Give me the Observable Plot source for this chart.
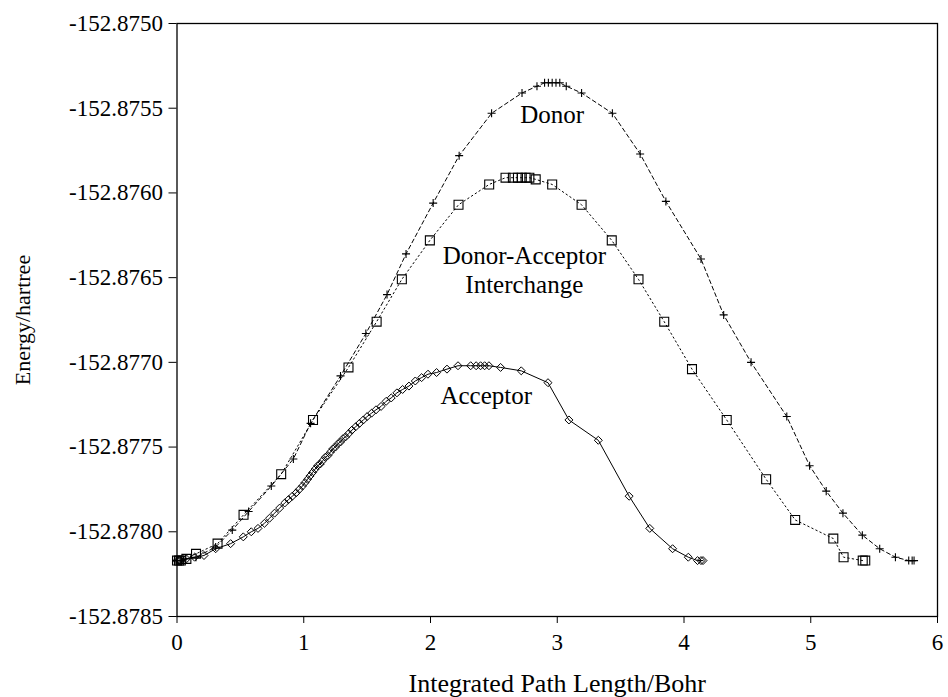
<!DOCTYPE html>
<html>
<head>
<meta charset="utf-8">
<script src="https://cdn.jsdelivr.net/npm/d3@7"></script>
<script src="https://cdn.jsdelivr.net/npm/@observablehq/plot@0.6"></script>
<style>
  html, body { margin: 0; padding: 0; background: #fff; }
  #chart svg { display: block; }
  #chart svg, #chart svg text { font-family: "Liberation Serif", "Times New Roman", serif !important; }
</style>
</head>
<body>
<div id="chart"></div>
<script>
// ---- Data ----
const xTicks = [0, 1, 2, 3, 4, 5, 6];
const yTicks = [-152.8785, -152.8780, -152.8775, -152.8770, -152.8765, -152.8760, -152.8755, -152.8750];
const xTitle = "Integrated Path Length/Bohr";
const yTitle = "Energy/hartree";

const donorX = [0, 0.03, 0.07, 0.15, 0.305, 0.436, 0.565, 0.744, 0.918, 1.054, 1.29, 1.49, 1.657, 1.807,
  2.021, 2.226, 2.482, 2.722, 2.84, 2.90, 2.93, 2.96, 2.99, 3.02, 3.071, 3.192, 3.435, 3.654, 3.857,
  4.134, 4.313, 4.529, 4.811, 4.991, 5.122, 5.254, 5.407, 5.544, 5.668, 5.773, 5.80, 5.815];
const donorY = [-152.87817, -152.87817, -152.87816, -152.87815, -152.87809, -152.87799, -152.87788, -152.87773, -152.87757,
  -152.87736, -152.87708, -152.87683, -152.87660, -152.87636,
  -152.87606, -152.87578, -152.87553, -152.87541, -152.87537,
  -152.87535, -152.87535, -152.87535, -152.87535, -152.87535,
  -152.87537, -152.87541, -152.87553, -152.87577, -152.87605,
  -152.87639, -152.87672, -152.87700, -152.87732, -152.87761,
  -152.87776, -152.87789, -152.87802, -152.87810, -152.87815,
  -152.87817, -152.87817, -152.87817];

const daX = [0, 0.015, 0.03, 0.074, 0.15, 0.32, 0.525, 0.822, 1.073, 1.353,
  1.575, 1.774, 1.995, 2.221, 2.463, 2.592, 2.65, 2.69, 2.72, 2.75,
  2.78, 2.83, 2.96, 3.192, 3.43, 3.641, 3.844, 4.063, 4.337, 4.648,
  4.877, 5.178, 5.259, 5.41, 5.43];
const daY = [-152.87817, -152.87817, -152.87817, -152.87816, -152.87813,
  -152.87807, -152.87790, -152.87766, -152.87734, -152.87703,
  -152.87676, -152.87651, -152.87628, -152.87607, -152.87595,
  -152.87591, -152.87591, -152.87591, -152.87591, -152.87591,
  -152.87591, -152.87592, -152.87595, -152.87607, -152.87628,
  -152.87651, -152.87676, -152.87704, -152.87734, -152.87769,
  -152.87793, -152.87804, -152.87815, -152.87817, -152.87817];

const accX = [0, 0.01, 0.02, 0.03, 0.074, 0.139, 0.213, 0.305, 0.423, 0.523,
  0.586, 0.639, 0.69, 0.73, 0.77, 0.81, 0.85, 0.88, 0.91, 0.94,
  0.965, 0.99, 1.01, 1.03, 1.05, 1.07, 1.09, 1.11, 1.13, 1.15,
  1.17, 1.19, 1.21, 1.23, 1.25, 1.27, 1.29, 1.31, 1.33, 1.355,
  1.38, 1.41, 1.44, 1.47, 1.50, 1.535, 1.57, 1.61, 1.65, 1.69,
  1.735, 1.78, 1.83, 1.88, 1.93, 1.98, 2.048, 2.13, 2.217, 2.317,
  2.36, 2.395, 2.427, 2.461, 2.553, 2.716, 2.927, 3.092, 3.324, 3.567,
  3.73, 3.91, 4.034, 4.107, 4.134, 4.15];
const accY = [-152.87817, -152.87817, -152.87817, -152.87817, -152.87816, -152.87815, -152.87814, -152.87810, -152.87807, -152.87803,
  -152.87800, -152.87798, -152.87795, -152.87792, -152.87789, -152.87786, -152.87783, -152.87781, -152.87779, -152.87777,
  -152.87775, -152.87773, -152.87771, -152.87769, -152.87767, -152.87765, -152.87763, -152.87761, -152.87760, -152.87758,
  -152.87756, -152.87755, -152.87753, -152.87751, -152.87750, -152.87748, -152.87747, -152.87745, -152.87744, -152.87742,
  -152.87740, -152.87738, -152.87736, -152.87734, -152.87732, -152.87730, -152.87728, -152.87726, -152.87723, -152.87721,
  -152.87718, -152.87716, -152.87714, -152.87711, -152.87709, -152.87707, -152.87706, -152.87704, -152.87702, -152.87702,
  -152.87702, -152.87702, -152.87702, -152.87702, -152.87703, -152.87705, -152.87712, -152.87734, -152.87746, -152.87779,
  -152.87798, -152.87810, -152.87815, -152.87817, -152.87817, -152.87817];

const labelText = ["Donor", "Donor-Acceptor\nInterchange", "Acceptor"];
const labelX = [2.96, 2.74, 2.44];
const labelY = [-152.87553, -152.87645, -152.87719];

// ---- Tables built from the arrays ----
const donor = donorX.map((x, i) => ({x, y: donorY[i]}));
const da = daX.map((x, i) => ({x, y: daY[i]}));
const acc = accX.map((x, i) => ({x, y: accY[i]}));
const labels = labelText.map((t, i) => ({t, x: labelX[i], y: labelY[i]}));

const serif = "Liberation Serif";

const chart = Plot.plot({
  width: 948,
  height: 697,
  marginLeft: 176.5,
  marginRight: 11,
  marginTop: 23,
  marginBottom: 81,
  style: {fontFamily: serif, fontSize: "23px", color: "#000", background: "#fff"},
  x: {
    domain: [0, 6], ticks: xTicks, tickFormat: d => String(d),
    label: null, tickSize: 7, tickPadding: 10
  },
  y: {
    domain: [-152.8785, -152.8750], ticks: yTicks, tickFormat: d => d.toFixed(4),
    label: null, tickSize: 8, tickPadding: 6
  },
  marks: [
    Plot.frame({stroke: "#000", strokeWidth: 1.3}),
    Plot.line(donor, {x: "x", y: "y", stroke: "#000", strokeWidth: 1, strokeDasharray: "4,3"}),
    Plot.line(da, {x: "x", y: "y", stroke: "#000", strokeWidth: 1, strokeDasharray: "1.5,3"}),
    Plot.line(acc, {x: "x", y: "y", stroke: "#000", strokeWidth: 1}),
    Plot.dot(donor, {x: "x", y: "y", symbol: "plus", r: 2.7, stroke: "#000", strokeWidth: 1.1}),
    Plot.dot(da, {x: "x", y: "y", symbol: "square2", r: 5.7, stroke: "#000", strokeWidth: 1.1, fill: "none"}),
    Plot.dot(acc, {x: "x", y: "y", symbol: "diamond2", r: 3.6, stroke: "#000", strokeWidth: 1, fill: "none"}),
    Plot.text(labels, {x: "x", y: "y", text: "t", fontSize: 25, fontFamily: serif, fill: "#000", lineHeight: 1.15}),
    Plot.text([xTitle], {text: d => d, frameAnchor: "bottom", textAnchor: "middle", lineAnchor: "bottom", dy: 75, fontSize: 26, fontFamily: serif, fill: "#000"}),
    Plot.text([yTitle], {text: d => d, frameAnchor: "left", textAnchor: "middle", lineAnchor: "middle", dx: -154, rotate: -90, fontSize: 22, fontFamily: serif, fill: "#000"})
  ]
});
document.getElementById("chart").appendChild(chart);
</script>
</body>
</html>
